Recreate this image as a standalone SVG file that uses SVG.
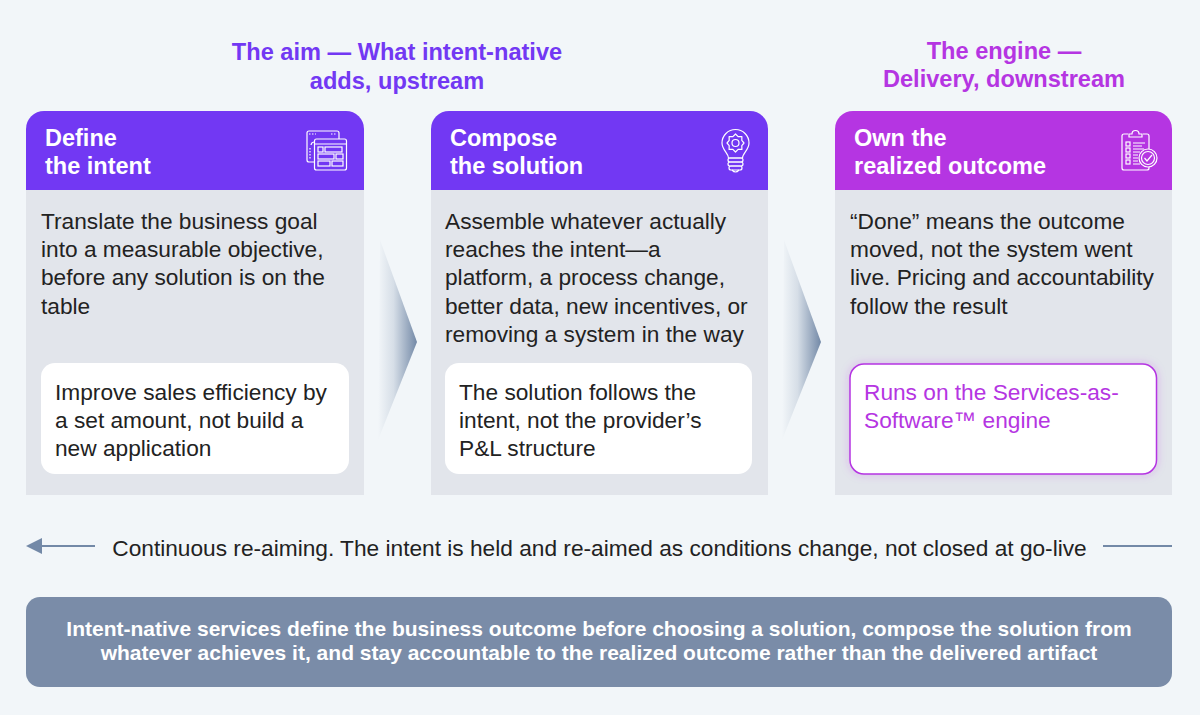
<svg xmlns="http://www.w3.org/2000/svg" width="1200" height="715" viewBox="0 0 1200 715">
<style>
.h{font-family:"Liberation Sans",Arial,sans-serif;font-weight:700}
.t{font-size:23.6px;text-anchor:middle}
.v{fill:#7238f3}.m{fill:#b535e2}
.ht{font-size:23.5px;fill:#fff}
.b{font-family:"Liberation Sans",Arial,sans-serif;font-size:22.7px;fill:#222}
.card{fill:#e2e5eb}
.box{fill:#fff}
.i{fill:none;stroke:#fff;stroke-width:1.2}
.c{stroke:#7389a7;stroke-width:2;fill:none}
.f{font-size:21px;fill:#fff;text-anchor:middle}
</style>
<defs>
<linearGradient id="g"><stop offset="0" stop-color="#7389a7" stop-opacity="0"/><stop offset=".4" stop-color="#7389a7" stop-opacity=".22"/><stop offset="1" stop-color="#7389a7"/></linearGradient>
<filter id="gl" x="-10%" y="-20%" width="120%" height="140%"><feDropShadow dx="0" dy="0" stdDeviation="4" flood-color="#b535e2" flood-opacity=".25"/></filter>
</defs>
<rect width="1200" height="715" fill="#f2f6f9"/>
<g id="title-aim"><text class="h t v" x="397" y="60">The aim — What intent-native</text><text class="h t v" x="397" y="89">adds, upstream</text></g>
<g id="title-engine"><text class="h t m" x="1004" y="59">The engine —</text><text class="h t m" x="1004" y="87">Delivery, downstream</text></g>

<g id="connectors">
<path d="M380 240L417 342L378 440Z" fill="url(#g)"/>
<path d="M784 240L821 342L782 440Z" fill="url(#g)"/>
<path class="c" d="M95 546H40"/><path d="M26 546L42 538V554Z" fill="#7389a7"/>
<path class="c" d="M1103 546H1172"/>
</g>

<g id="node-define">
<path class="card" d="M26 190H364V495H26Z"/>
<path class="v" d="M26 190V129a18 18 0 0 1 18-18H346a18 18 0 0 1 18 18V190Z"/>
<text class="h ht" x="45" y="146">Define</text><text class="h ht" x="45" y="174">the intent</text>
<g class="i"><rect x="307" y="131" width="32" height="31" rx="2"/><path d="M309 134H316M331 134H337" stroke-dasharray="1.500 1.500"/><path d="M310 148V159" stroke-dasharray="1.500 1.500"/><path d="M314 142a3.500 3.500 0 0 0-3 3"/><rect x="314.500" y="139" width="32" height="31" rx="2" fill="#7238f3"/><path d="M314.500 144H346.500"/><rect x="318" y="147" width="5" height="5"/><rect x="325" y="147" width="17" height="5"/><rect x="318" y="154" width="16" height="5"/><rect x="336" y="154" width="7" height="5"/><rect x="318" y="161" width="12" height="5"/><rect x="332" y="161" width="11" height="5"/></g>
<text class="b" x="41" y="228.500">Translate the business goal</text><text class="b" x="41" y="257">into a measurable objective,</text><text class="b" x="41" y="285">before any solution is on the</text><text class="b" x="41" y="313.500">table</text>
<rect class="box" x="41" y="363" width="308" height="111" rx="14"/>
<text class="b" x="55" y="399.500">Improve sales efficiency by</text><text class="b" x="55" y="428">a set amount, not build a</text><text class="b" x="55" y="456">new application</text>
</g>

<g id="node-compose">
<path class="card" d="M431 190H768V495H431Z"/>
<path class="v" d="M431 190V129a18 18 0 0 1 18-18H750a18 18 0 0 1 18 18V190Z"/>
<text class="h ht" x="450" y="146">Compose</text><text class="h ht" x="450" y="174">the solution</text>
<g class="i"><path d="M728.500 158C728.500 153 722 150 722 143a13.500 13.500 0 0 1 27 0C749 150 742.500 153 742.500 158Z"/><circle cx="735.500" cy="143" r="3.500"/><path stroke-linejoin="round" d="M744 143L741.800 145.600L741.900 149.400L738.100 149.300L735.500 152L732.900 149.300L729.100 149.400L729.200 145.600L727 143L729.200 140.400L729.100 136.600L732.900 136.700L735.500 134L738.100 136.700L741.900 136.600L741.800 140.400Z"/><rect x="728" y="158" width="15" height="4" rx="2"/><rect x="728" y="162" width="15" height="4" rx="2"/><rect x="729" y="166" width="13" height="4" rx="2"/><path d="M732 170Q735.500 174 739 170"/></g>
<text class="b" x="445" y="228.500">Assemble whatever actually</text><text class="b" x="445" y="257">reaches the intent—a</text><text class="b" x="445" y="285">platform, a process change,</text><text class="b" x="445" y="313.500">better data, new incentives, or</text><text class="b" x="445" y="342">removing a system in the way</text>
<rect class="box" x="445" y="363" width="307" height="111" rx="14"/>
<text class="b" x="459" y="399.500">The solution follows the</text><text class="b" x="459" y="428">intent, not the provider’s</text><text class="b" x="459" y="456">P&amp;L structure</text>
</g>

<g id="node-own">
<path class="card" d="M835 190H1172V495H835Z"/>
<path class="m" d="M835 190V129a18 18 0 0 1 18-18H1154a18 18 0 0 1 18 18V190Z"/>
<text class="h ht" x="854" y="146">Own the</text><text class="h ht" x="854" y="174">realized outcome</text>
<g class="i"><path d="M1128 134H1124a2 2 0 0 0-2 2V168a2 2 0 0 0 2 2H1147a2 2 0 0 0 2-2V167M1149 149V136a2 2 0 0 0-2-2H1143"/><path d="M1129 137V134H1132a3.500 3.500 0 0 1 7 0H1142V137Z"/><rect x="1126" y="142" width="4" height="4"/><rect x="1126" y="148" width="4" height="4"/><rect x="1126" y="154" width="4" height="4"/><rect x="1126" y="160" width="4" height="4"/><path d="M1133 143H1145M1133 146H1142M1133 149H1144M1133 152H1140M1133 155H1138M1133 158H1138M1133 161H1138M1133 164H1140"/><circle cx="1148" cy="158" r="9" fill="#b535e2"/><circle cx="1148" cy="158" r="6.500"/><path d="M1144.500 158L1147 161L1152 155"/></g>
<text class="b" x="850" y="228.500">“Done” means the outcome</text><text class="b" x="850" y="257">moved, not the system went</text><text class="b" x="850" y="285">live. Pricing and accountability</text><text class="b" x="850" y="313.500">follow the result</text>
<rect class="box" x="850" y="364" width="306.500" height="110" rx="14" stroke="#b535e2" stroke-width="1.500" filter="url(#gl)"/>
<text class="b" x="864" y="399.500" style="fill:#b535e2">Runs on the Services-as-</text><text class="b" x="864" y="428" style="fill:#b535e2">Software™ engine</text>
</g>

<g id="note"><text class="b" x="599.500" y="556" text-anchor="middle">Continuous re-aiming. The intent is held and re-aimed as conditions change, not closed at go-live</text></g>

<g id="footer">
<rect x="26" y="597" width="1146" height="90" rx="14" fill="#7a8ca8"/>
<text class="h f" x="599" y="636">Intent-native services define the business outcome before choosing a solution, compose the solution from</text>
<text class="h f" x="599" y="660">whatever achieves it, and stay accountable to the realized outcome rather than the delivered artifact</text>
</g>
</svg>
